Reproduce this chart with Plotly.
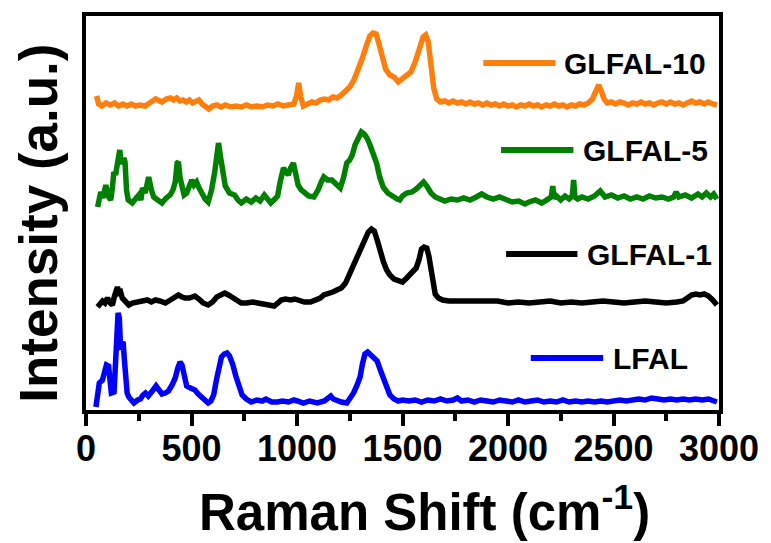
import plotly.graph_objects as go

# Raman spectra, intensities in arbitrary units relative to each trace's baseline
lfal_x = [47, 55, 63, 78, 88, 97, 107, 114, 120, 133, 140, 146, 152, 158, 164, 170, 176, 182, 188, 195,
          203, 215, 227, 245, 258, 270, 282, 295, 305, 318, 332, 345, 360, 375, 391, 408, 423, 435, 446, 455,
          465, 477, 495, 516, 532, 548, 565, 579, 592, 605, 618, 630, 642, 655, 668, 680, 695, 710, 725, 740,
          760, 783, 810, 835, 853, 880, 908, 930, 960, 985, 1002, 1030, 1060, 1096, 1130, 1150, 1160, 1172, 1189, 1210,
          1236, 1255, 1268, 1285, 1299, 1310, 1322, 1335, 1350, 1365, 1380, 1395, 1410, 1425, 1440, 1460, 1480, 1500,
          1530, 1560, 1590, 1620, 1650, 1680, 1710, 1740, 1760, 1780, 1810, 1840, 1870, 1900, 1930, 1960, 1990,
          2020, 2050, 2080, 2110, 2140, 2170, 2200, 2230, 2260, 2290, 2320, 2350, 2380, 2410, 2440, 2470, 2500,
          2530, 2560, 2590, 2620, 2650, 2680, 2710, 2740, 2770, 2800, 2830, 2860, 2890, 2920, 2950, 2970, 2990]
lfal_y = [-5, 7, 19, 22, 30, 37, 36, 17, 9, 10, 42, 84, 89, 84, 52, 59, 60, 42, 20, 9,
          5, 1, -1, 2, 3, 7, 9, 6, 8, 12, 16, 12, 8, 9, 11, 17, 24, 34, 40, 37,
          29, 16, 14, 12, 8, 5, 1, -1, 1, 7, 22, 36, 45, 48, 49, 46, 38, 26, 14, 7,
          3, 0, 2, 1, 3, 0, 0, 1, 0, 2, 1, -1, 1, -1, 1, 4, 6, 3, 1, 0,
          -1, 4, 9, 17, 25, 38, 48, 50, 47, 45, 41, 32, 23, 14, 7, 3, 1, 2,
          1, 2, 0, 2, 1, 3, 1, 2, 4, 1, 2, 0, 2, 1, 0, 2, 1,
          0, 2, 0, 1, 2, 0, 1, 0, 2, 0, 1, 0, 1, 0, 1, 0, 1,
          2, 1, 2, 3, 2, 4, 3, 2, 3, 2, 3, 2, 3, 2, 3, 1, 0]

glfal1_x = [55, 68, 78, 90, 102, 115, 125, 135, 143, 149, 156, 164, 172, 180, 195, 203, 220, 240, 266, 290,
            310, 329, 350, 376, 400, 420, 438, 455, 469, 490, 516, 535, 555, 579, 600, 620, 640, 657, 675, 695,
            715, 736, 760, 790, 814, 840, 865, 892, 910, 925, 945, 970, 990, 1010, 1035, 1064, 1090, 1110, 1127, 1150,
            1170, 1189, 1210, 1230, 1245, 1260, 1275, 1290, 1305, 1322, 1338, 1353, 1366, 1380, 1395, 1410, 1425, 1440,
            1460, 1487, 1500, 1520, 1545, 1565, 1578, 1590, 1602, 1615, 1625, 1635, 1645, 1655, 1670, 1690, 1720,
            1750, 1800, 1850, 1900, 1950, 2000, 2050, 2100, 2150, 2200, 2250, 2300, 2350, 2400, 2450, 2500, 2550,
            2600, 2650, 2700, 2750, 2800, 2830, 2850, 2870, 2890, 2910, 2930, 2950, 2970, 2990]
glfal1_y = [-4, 1, 2, 0, 5, 0, -2, 7, 13, 16, 10, 11, 5, 3, -1, -2, 0, 1, 2, 3,
            1, 3, 2, 0, 3, 6, 8, 6, 5, 5, 7, 4, 0, -2, 1, 6, 9, 10, 8, 5,
            2, 0, 0, 1, 0, -1, -2, -3, 0, 3, 4, 3, 4, 2, 1, 1, 3, 5, 8, 9,
            11, 13, 15, 20, 27, 33, 41, 49, 57, 65, 71, 74, 72, 63, 51, 41, 33, 28,
            24, 21, 21, 25, 30, 35, 43, 54, 56, 55, 47, 33, 18, 9, 5, 3, 2,
            2, 1, 2, 1, 2, 0, 1, 0, 1, 2, 0, 1, 0, 1, 2, 1, 0,
            1, 2, 1, 0, 1, 2, 5, 8, 9, 8, 9, 7, 3, -2]

glfal5_x = [55, 62, 70, 80, 94, 105, 117, 125, 132, 140, 149, 155, 160, 166, 172, 180, 185, 192, 200, 219,
            235, 250, 260, 268, 280, 297, 310, 321, 340, 360, 380, 399, 412, 423, 432, 438, 446, 454, 465, 477,
            490, 501, 512, 524, 536, 548, 565, 579, 595, 610, 620, 628, 636, 645, 660, 680, 704, 720, 736, 760,
            783, 805, 825, 845, 860, 876, 895, 908, 920, 936, 948, 958, 970, 983, 995, 1005, 1020, 1035, 1055, 1080,
            1100, 1115, 1127, 1145, 1165, 1185, 1205, 1220, 1236, 1250, 1262, 1275, 1290, 1305, 1318, 1332, 1346, 1360,
            1377, 1392, 1408, 1430, 1455, 1475, 1487, 1500, 1520, 1545, 1565, 1585, 1600, 1615, 1635, 1655, 1680,
            1700, 1730, 1760, 1790, 1820, 1850, 1875, 1900, 1930, 1960, 1990, 2020, 2050, 2080, 2100, 2130, 2160,
            2190, 2205, 2212, 2218, 2230, 2250, 2270, 2290, 2305, 2311, 2317, 2330, 2350, 2380, 2410, 2437, 2460,
            2490, 2520, 2550, 2580, 2610, 2640, 2670, 2700, 2730, 2760, 2785, 2797, 2810, 2840, 2870, 2900, 2920,
            2940, 2960, 2975, 2990]
glfal5_y = [-7, 5, 8, 2, 15, 4, 0, 12, 28, 25, 34, 40, 50, 38, 38, 42, 38, 10, 0, -3,
            2, 5, 0, 12, 7, 23, 10, 3, 0, -3, 2, 5, 10, 18, 37, 38, 22, 12, 5, 7,
            15, 20, 15, 18, 12, 7, 1, -2, 10, 28, 50, 57, 45, 30, 14, 7, 5, 0, -3, 1,
            -2, 2, -1, 5, 1, -3, 1, 4, 18, 32, 28, 25, 32, 37, 25, 15, 10, 7, 4, 3,
            10, 18, 23, 20, 20, 16, 12, 22, 37, 40, 45, 55, 63, 68, 66, 62, 55, 48,
            37, 23, 13, 7, 3, 1, 0, 4, 7, 8, 11, 16, 18, 14, 7, 3, 0,
            -1, 1, 0, 2, 0, 3, 6, 3, 1, 3, 0, -2, -1, -4, -2, 0, -3,
            1, 3, 14, 2, 4, 0, 4, 1, 4, 20, 3, 1, 3, 1, 4, 9, 3,
            5, 2, 4, 1, 3, 1, 4, 2, 3, 1, 3, 8, 3, 5, 2, 6, 3,
            7, 3, 6, 1]

glfal10_x = [50, 60, 75, 95, 115, 135, 155, 175, 195, 215, 235, 255, 280, 300, 315, 330, 345, 360, 380, 400,
             415, 430, 445, 460, 475, 490, 505, 520, 535, 550, 565, 582, 600, 620, 640, 660, 685, 710, 735, 760,
             785, 810, 835, 860, 885, 910, 935, 960, 985, 998, 1008, 1018, 1030, 1050, 1070, 1090, 1110, 1130, 1150, 1170,
             1190, 1210, 1230, 1250, 1270, 1290, 1310, 1330, 1345, 1360, 1375, 1390, 1405, 1420, 1440, 1460, 1480, 1500,
             1520, 1540, 1560, 1580, 1598, 1610, 1622, 1635, 1648, 1662, 1680, 1700, 1720, 1740, 1760, 1780, 1800,
             1820, 1840, 1860, 1880, 1900, 1920, 1940, 1960, 1980, 2000, 2020, 2040, 2060, 2080, 2100, 2120, 2140,
             2160, 2180, 2200, 2220, 2240, 2260, 2280, 2300, 2320, 2340, 2360, 2380, 2400, 2415, 2430, 2442, 2455,
             2470, 2490, 2510, 2530, 2550, 2570, 2590, 2610, 2630, 2650, 2670, 2690, 2710, 2730, 2750, 2770, 2790,
             2810, 2830, 2850, 2870, 2890, 2910, 2930, 2950, 2970, 2990]
glfal10_y = [9, 1, -1, 2, 0, 2, -1, 1, -1, 1, -1, 0, -1, 1, 4, 6, 4, 3, 6, 7,
             5, 7, 4, 5, 3, 5, 2, 4, 5, 1, -1, -4, -1, 0, -2, 0, -2, -1, -2, 0,
             -2, -1, -2, 0, -1, 1, -1, 0, 1, 9, 22, 8, -1, 1, 3, 2, 5, 6, 5, 8,
             7, 10, 14, 18, 25, 35, 47, 60, 69, 72, 71, 60, 47, 36, 30, 28, 23, 26,
             30, 33, 43, 57, 68, 70, 63, 40, 17, 6, 3, 4, 2, 4, 2, 3, 1,
             3, 1, 2, 0, 2, 0, 1, -1, 1, -1, 0, -2, 0, -1, 1, -1, 0,
             -2, 0, -1, 1, -1, 0, -2, 0, -1, 1, 0, 2, 6, 13, 20, 14, 6,
             2, 3, 1, 3, 2, 0, 2, 1, 3, 1, 2, 0, 2, 3, 1, 3, 1,
             2, 0, 2, 4, 2, 3, 1, 3, 1, 0]

names = ["LFAL", "GLFAL-1", "GLFAL-5", "GLFAL-10"]
colors = ["#0000FF", "#000000", "#008000", "#FF7F0E"]
offsets = [8, 107, 210, 305]
xs = [lfal_x, glfal1_x, glfal5_x, glfal10_x]
ys = [lfal_y, glfal1_y, glfal5_y, glfal10_y]

# in-plot legend: sample line span (x), its height and label start (x)
legend_line_x = [[2108, 2451], [1991, 2329], [1967, 2310], [1883, 2225]]
legend_y = [52, 156, 260, 347]
legend_text_x = [2490, 2365, 2346, 2255]

FONT = "Liberation Sans, Arial, sans-serif"

fig = go.Figure()
for name, col, off, x, y in zip(names, colors, offsets, xs, ys):
    fig.add_trace(go.Scatter(
        x=x, y=[off + v for v in y], mode="lines", name=name,
        line=dict(color=col, width=5.5), showlegend=False,
    ))

for col, (x0, x1), ly, tx, name in zip(colors, legend_line_x, legend_y, legend_text_x, names):
    fig.add_shape(type="line", xref="x", yref="y", x0=x0, x1=x1, y0=ly, y1=ly,
                  line=dict(color=col, width=6))
    fig.add_annotation(x=tx, y=ly, xref="x", yref="y", text="<b>%s</b>" % name,
                       showarrow=False, xanchor="left", yanchor="middle",
                       font=dict(family=FONT, size=30, color="black"))

# axis titles
fig.add_annotation(x=0.535, y=-0.252, xref="paper", yref="paper",
                   text="<b>Raman Shift (cm<sup>-1</sup>)</b>", showarrow=False,
                   xanchor="center", yanchor="middle",
                   font=dict(family=FONT, size=51, color="black"))
fig.add_annotation(x=-0.075, y=0.474, xref="paper", yref="paper",
                   text="<b>Intensity (a.u.)</b>", showarrow=False, textangle=-90,
                   xanchor="center", yanchor="middle",
                   font=dict(family=FONT, size=53, color="black"))

fig.update_layout(
    width=771, height=543,
    margin=dict(l=86, r=46, t=16, b=133),
    paper_bgcolor="white", plot_bgcolor="white",
    font=dict(family=FONT, color="black"),
)
fig.update_xaxes(
    range=[0, 3000], showgrid=False, zeroline=False,
    showline=True, linecolor="black", linewidth=4, mirror=True,
    ticks="outside", ticklen=12, tickwidth=4, tickcolor="black",
    tickvals=[0, 500, 1000, 1500, 2000, 2500, 3000],
    tickfont=dict(family=FONT, size=36, color="black", weight="bold"),
    ticklabelstandoff=-8,
    minor=dict(ticks="outside", ticklen=7, tickwidth=4, tickcolor="black", dtick=250),
)
fig.update_yaxes(
    range=[0, 394], showgrid=False, zeroline=False,
    showline=True, linecolor="black", linewidth=4, mirror=True,
    ticks="", showticklabels=False,
)

fig.write_html("out.html")
